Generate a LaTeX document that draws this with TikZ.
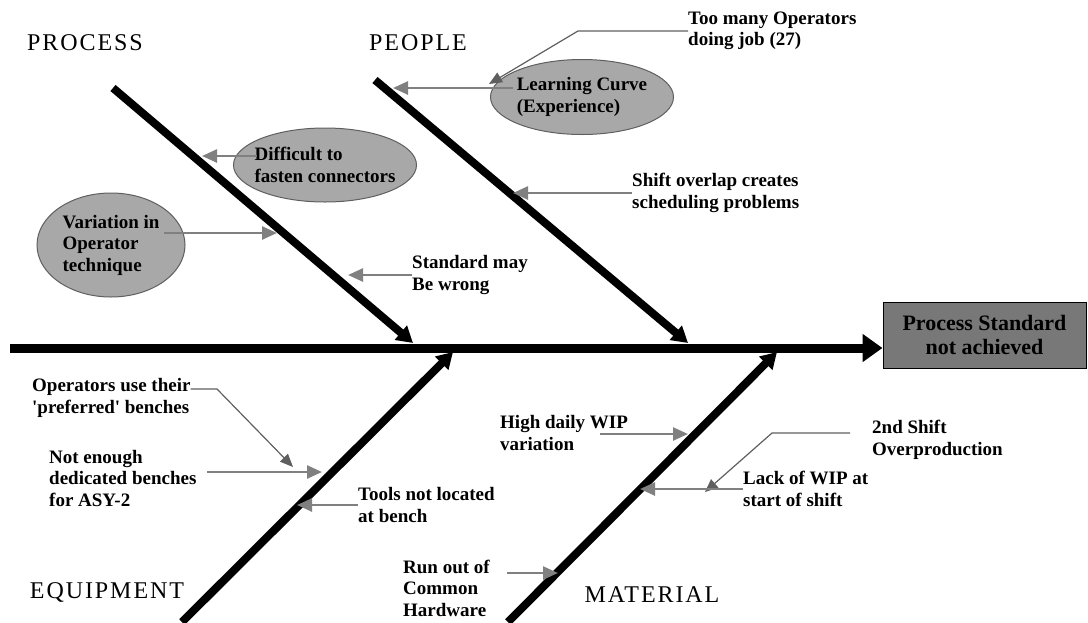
\documentclass[tikz,border=0pt]{standalone}
\usepackage{fontspec}
\setmainfont{Liberation Serif}
\newfontfamily\catfont[LetterSpace=8]{Liberation Serif}
\usepackage{xcolor}
\definecolor{fishgray}{RGB}{128,128,128}
\definecolor{fishedge}{RGB}{95,95,95}
\definecolor{fishfill}{RGB}{168,168,168}
\definecolor{fishbox}{RGB}{120,120,120}
\usetikzlibrary{positioning,arrows.meta,shapes.geometric}
\tikzset{
  category/.style ={font=\catfont\fontsize{24}{27}\selectfont,inner sep=0pt},
  causetext/.style={anchor=west,align=left,inner sep=0pt,
                    font=\bfseries\fontsize{19}{21.5}\selectfont},
  bubble/.style   ={ellipse,draw=fishedge,fill=fishfill,line width=1pt,align=left,
                    inner xsep=-8pt,inner ysep=0pt,font=\bfseries\fontsize{19}{21.5}\selectfont},
  effectbox/.style={rectangle,draw=black,line width=1pt,fill=fishbox,align=center,
                    minimum width=203pt,minimum height=66pt,
                    font=\bfseries\fontsize{22}{24}\selectfont},
  spine/.style    ={line width=9pt,-{Triangle[length=20pt,width=27pt]}},
  bone/.style     ={line width=8pt,-{Triangle[length=16pt,width=18pt]}},
  cause/.style    ={draw=fishgray,line width=2.5pt,-{Triangle[length=15pt,width=13pt]}},
  leader/.style   ={draw=fishedge,line width=1.2pt,-{Triangle[length=13pt,width=11pt]}},
}
\begin{document}
\begin{tikzpicture}[x=1pt,y=1pt]
  \useasboundingbox (0,0) rectangle (1088,-622);
  \node[effectbox] (effect) at (984.5,-335) {Process Standard\\not achieved};
  \coordinate (tail) at (10,-348);
  \draw[spine] (tail) -- (tail -| effect.west);

  \coordinate (proc-a) at (113,-88);  \coordinate (proc-b) at (413,-343);
  \coordinate (peop-a) at (375,-80);  \coordinate (peop-b) at (688,-343);
  \coordinate (equip-a) at (182,-622); \coordinate (equip-b) at (453,-352);
  \coordinate (mat-a) at (508,-622);  \coordinate (mat-b) at (777,-352);
  \foreach \b in {proc,peop,equip,mat}
    \draw[bone] (\b-a) -- (\b-b);

  \foreach \x/\y/\name in {85/43/PROCESS, 418/43/PEOPLE, 107/592/EQUIPMENT, 652/595/MATERIAL}
    \node[category] (c\name) at (\x,-\y) {\name};

  \node[bubble,minimum width=183pt,minimum height=74pt] (diff) at (325,-165) {Difficult to\\fasten connectors};
  \node[bubble,minimum width=148pt,minimum height=104pt] (var) at (111,-245) {Variation in\\Operator\\technique};
  \node[bubble,minimum width=183pt,minimum height=75pt] (lc) at (582,-97) {Learning Curve\\(Experience)};

  \node[causetext] (std) at (412,-275) {Standard may\\Be wrong};
  \node[causetext] (many) at (688,-31) {Too many Operators\\doing job (27)};
  \node[causetext] (shift) at (632,-193) {Shift overlap creates\\scheduling problems};
  \node[causetext] (ops) at (32,-398) {Operators use their\\\textquotesingle preferred\textquotesingle\ benches};
  \node[causetext] (bench) at (49,-478) {Not enough\\dedicated benches\\for ASY-2};
  \node[causetext] (tools) at (358,-505) {Tools not located\\at bench};
  \node[causetext] (run) at (403,-588) {Run out of\\Common\\Hardware};
  \node[causetext] (wip) at (500,-433) {High daily WIP\\variation};
  \node[causetext] (over) at (872,-440) {2nd Shift\\Overproduction};
  \node[causetext] (lack) at (743,-489) {Lack of WIP at\\start of shift};

  \coordinate (t-diff) at (202,-156);
  \coordinate (t-var) at (277,-233);
  \coordinate (t-std) at (348,-275);
  \coordinate (t-lc) at (393,-88);
  \coordinate (k-many) at (578,-31);  \coordinate (t-many) at (489,-84);
  \coordinate (t-shift) at (513,-193);
  \coordinate (k-ops) at (217,-389);  \coordinate (t-ops) at (293,-467);
  \coordinate (s-bench) at (207,-472); \coordinate (t-bench) at (322,-472);
  \coordinate (t-tools) at (297,-505);
  \coordinate (s-run) at (507,-573);  \coordinate (t-run) at (558,-573);
  \coordinate (s-wip) at (600,-434);  \coordinate (t-wip) at (688,-434);
  \coordinate (s-over) at (850,-433); \coordinate (k-over) at (772,-433); \coordinate (t-over) at (705,-492);
  \coordinate (t-lack) at (640,-489);

  \draw[cause] ([xshift=23.5pt,yshift=9pt]diff.west) -- (t-diff);
  \draw[cause] ([xshift=-22pt,yshift=12pt]var.east) -- (t-var);
  \draw[cause] (std.west) -- (t-std);
  \draw[cause] ([xshift=22.5pt,yshift=9pt]lc.west) -- (t-lc);
  \draw[leader] (many.west) -- (k-many) -- (t-many);
  \draw[cause] (shift.west) -- (t-shift);
  \draw[leader] ([yshift=9pt]ops.east) -- (k-ops) -- (t-ops);
  \draw[cause] (s-bench) -- (t-bench);
  \draw[cause] (tools.west) -- (t-tools);
  \draw[cause] (s-run) -- (t-run);
  \draw[cause] (s-wip) -- (t-wip);
  \draw[leader] (s-over) -- (k-over) -- (t-over);
  \draw[cause] (lack.west) -- (t-lack);
\end{tikzpicture}
\end{document}
